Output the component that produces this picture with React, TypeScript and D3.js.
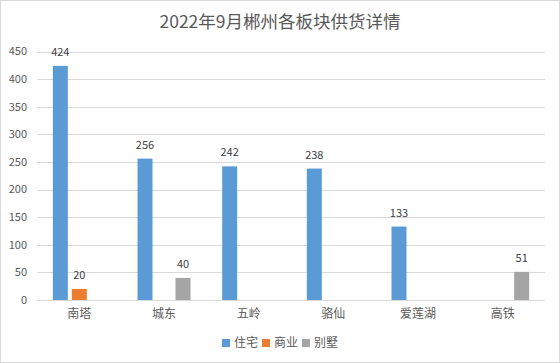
import * as d3 from 'd3';

const categories = ['南塔', '城东', '五岭', '骆仙', '爱莲湖', '高铁'];
const seriesNames = ['住宅', '商业', '别墅'];
const zhuzhai = [424, 256, 242, 238, 133, null];
const shangye = [20, null, null, null, null, null];
const bieshu = [null, 40, null, null, null, 51];
const yTicks = [0, 50, 100, 150, 200, 250, 300, 350, 400, 450];
const colors = ['#5B9BD5', '#ED7D31', '#A5A5A5'];

const W = 560;
const H = 363;
const FONT = '"Noto Sans CJK SC", "Microsoft YaHei", sans-serif';

const App = () => {
  const values = [zhuzhai, shangye, bieshu];

  const x = d3.scaleBand<string>()
    .domain(categories)
    .range([37, 545]);

  const y = d3.scaleLinear()
    .domain([0, 450])
    .range([300, 51.5]);

  const barW = 15;
  const step = 19;

  return (
    <svg width={W} height={H} style={{ position: 'absolute', left: 0, top: 0, fontFamily: FONT }}>
      <rect x={0.5} y={0.5} width={W - 1} height={H - 1} fill="#fff" stroke="#d9d9d9" />
      <text x={280} y={28} textAnchor="middle" fontSize={17.5} fill="#595959">
        2022年9月郴州各板块供货详情
      </text>

      {/* grid + y labels */}
      {yTicks.map(t => (
        <g key={t}>
          <line x1={37} x2={545} y1={Math.round(y(t)) + 0.5} y2={Math.round(y(t)) + 0.5}
            stroke="#d9d9d9" strokeWidth={1} />
          <text x={27} y={y(t)} dy="0.35em" textAnchor="end" fontSize={11} fill="#595959">{t}</text>
        </g>
      ))}

      {/* bars */}
      {values.map((vals, si) => (
        <g key={si} fill={colors[si]}>
          {vals.map((v, ci) => {
            if (v == null) return null;
            const cx = x(categories[ci])! + x.bandwidth() / 2;
            const bx = cx - 26.5 + si * step;
            return (
              <g key={ci}>
                <rect x={bx} y={y(v)} width={barW} height={y(0) - y(v)} />
                <text x={bx + barW / 2} y={y(v) - 10} textAnchor="middle" fontSize={11} fill="#404040">{v}</text>
              </g>
            );
          })}
        </g>
      ))}

      {/* category labels */}
      {categories.map(c => (
        <text key={c} x={x(c)! + x.bandwidth() / 2} y={314} dy="0.35em" textAnchor="middle"
          fontSize={12} fill="#595959">{c}</text>
      ))}

      {/* legend */}
      {seriesNames.map((s, i) => {
        const lx = 222 + i * 40;
        return (
          <g key={s}>
            <rect x={lx} y={339} width={8} height={8} fill={colors[i]} />
            <text x={lx + 12} y={343} dy="0.35em" fontSize={12} fill="#595959">{s}</text>
          </g>
        );
      })}
    </svg>
  );
};

export default App;
